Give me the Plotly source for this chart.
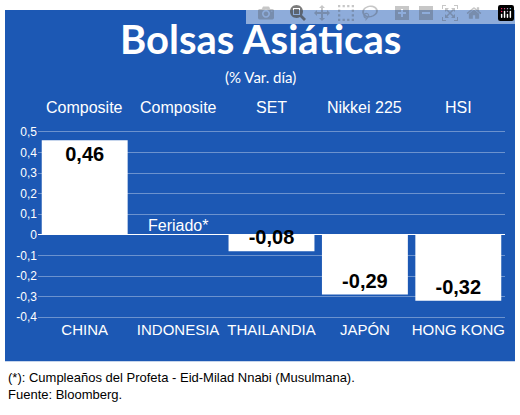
import plotly.graph_objects as go

## data
paises = ["CHINA", "INDONESIA", "THAILANDIA", "JAPÓN", "HONG KONG"]
indices = ["Composite", "Composite", "SET", "Nikkei 225", "HSI"]
variacion = [0.46, None, -0.08, -0.29, -0.32]
etiquetas = ["0,46", "", "-0,08", "-0,29", "-0,32"]
ticks_y = [0.5, 0.4, 0.3, 0.2, 0.1, 0, -0.1, -0.2, -0.3, -0.4]
ticks_txt = ["0,5", "0,4", "0,3", "0,2", "0,1", "0", "-0,1", "-0,2", "-0,3", "-0,4"]

azul = "rgb(28,88,180)"
W, H = 520, 415
narrow = "Liberation Sans Narrow, Liberation Sans, Arial Narrow, sans-serif"

fig = go.Figure(go.Bar(
    x=paises, y=variacion, text=etiquetas,
    marker=dict(color="white", line=dict(width=0)),
    textposition="inside", insidetextanchor="end", constraintext="none",
    textfont=dict(family=narrow, size=20, color="black", weight="bold"),
    textangle=0, cliponaxis=False,
))

## blue panel behind everything
fig.add_shape(type="rect", xref="paper", yref="paper",
              x0=5/W, x1=515/W, y0=1-365/H, y1=1-5/H,
              fillcolor=azul, line=dict(width=0), layer="below")

fig.add_annotation(x=0.5, y=1-35/H, xref="paper", yref="paper", showarrow=False,
                   yanchor="middle", text="<b>Bolsas Asiáticas</b>",
                   font=dict(family="Lato, sans-serif", size=40, color="white"))
fig.add_annotation(x=0.5, y=1-74/H, xref="paper", yref="paper", showarrow=False,
                   yanchor="middle", text="(% Var. día)",
                   font=dict(family="Lato, sans-serif", size=15, color="white"))
for p, ind in zip(paises, indices):
    fig.add_annotation(x=p, y=1-105/H, xref="x", yref="paper", showarrow=False,
                       yanchor="middle", text=ind,
                       font=dict(family=narrow, size=16, color="white"))
fig.add_annotation(x="INDONESIA", y=0.045, showarrow=False, text="Feriado*",
                   font=dict(family=narrow, size=16, color="white"))
fig.add_annotation(x=6/W, y=1-390/H, xref="paper", yref="paper", showarrow=False,
                   xanchor="left", yanchor="middle", align="left",
                   text="(*): Cumpleaños del Profeta - Eid-Milad Nnabi (Musulmana).<br>Fuente: Bloomberg.",
                   font=dict(family=narrow, size=13, color="black"))

fig.update_layout(
    width=W, height=H, margin=dict(l=0, r=0, t=0, b=0),
    paper_bgcolor="white", plot_bgcolor=azul, showlegend=False,
    bargap=0.08,
    xaxis=dict(domain=[38/W, 505/W], showgrid=False, zeroline=False,
               tickfont=dict(family=narrow, size=15, color="white"), ticks=""),
    yaxis=dict(domain=[1-322/H, 1-128/H], range=[-0.41, 0.51],
               tickvals=ticks_y, ticktext=ticks_txt,
               tickfont=dict(family=narrow, size=12, color="white"),
               showgrid=True, gridcolor="rgba(255,255,255,0.35)", gridwidth=1,
               zeroline=True, zerolinecolor="white", zerolinewidth=1),
)

fig.write_html("out.html", post_script="document.body.style.margin='0';")
